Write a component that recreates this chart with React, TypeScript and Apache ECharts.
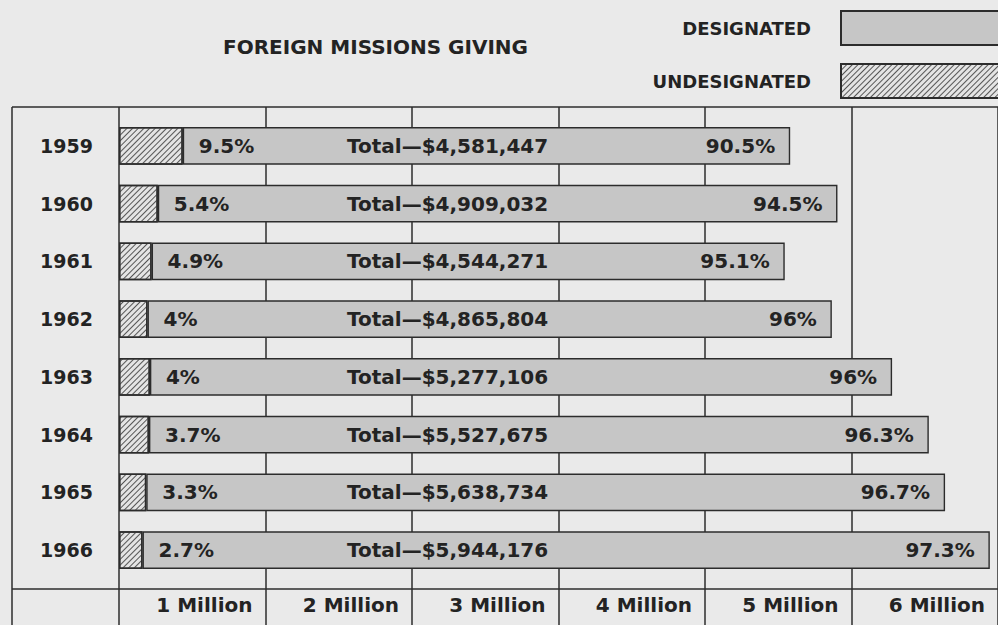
import React, { useEffect, useRef } from 'react';
import * as echarts from 'echarts';

const years = ['1959', '1960', '1961', '1962', '1963', '1964', '1965', '1966'];
const totals = [4581447, 4909032, 4544271, 4865804, 5277106, 5527675, 5638734, 5944176];
const undesignatedPct = [9.5, 5.4, 4.9, 4, 4, 3.7, 3.3, 2.7];
const designatedPct = [90.5, 94.5, 95.1, 96, 96, 96.3, 96.7, 97.3];
const tickLabels = ['1 Million', '2 Million', '3 Million', '4 Million', '5 Million', '6 Million'];

const FONT = 'DejaVu Sans';
const INK = '#232323';
const LINE = '#2c2c2c';
const BG = '#eaeaea';
const BAR = '#c6c6c6';

export default function App() {
  const ref = useRef<HTMLDivElement>(null);
  useEffect(() => {
    document.body.style.margin = '0';
    document.body.style.background = BG;
    const chart = echarts.init(ref.current!, null, { renderer: 'svg' });
    const undesVals = totals.map((t, i) => (t * undesignatedPct[i]) / 100 / 1e6);
    const desVals = totals.map((t, i) => (t * designatedPct[i]) / 100 / 1e6);
    const txt = { fontFamily: FONT, fontWeight: 'bold' as const, color: INK };
    chart.setOption({
      animation: false,
      backgroundColor: BG,
      title: {
        text: 'FOREIGN MISSIONS GIVING',
        left: 218,
        top: 32,
        textStyle: { ...txt, fontSize: 20 },
      },
      legend: {
        data: ['DESIGNATED', 'UNDESIGNATED'],
        orient: 'vertical',
        right: -25,
        top: 5,
        align: 'right',
        icon: 'rect',
        itemWidth: 176,
        itemHeight: 34,
        itemGap: 17,
        selectedMode: false,
        textStyle: { ...txt, fontSize: 18, padding: [0, 25, 0, 0] },
      },
      grid: [
        { left: 119, right: -7, top: 117, bottom: 46 },
        { left: 119, right: -7, top: 107, bottom: -20 },
      ],
      xAxis: [
        {
          type: 'value',
          gridIndex: 0,
          min: 0,
          max: 6,
          interval: 1,
          splitLine: { show: false },
          axisLine: { show: false },
          axisTick: { show: false },
          axisLabel: {
            ...txt,
            fontSize: 20,
            align: 'right',
            margin: 16,
            padding: [0, 13, 0, 0],
            formatter: (v: number) => (v === 0 ? '' : tickLabels[Math.round(v) - 1]),
          },
        },
        {
          type: 'value',
          gridIndex: 1,
          min: 0,
          max: 6,
          interval: 1,
          splitLine: { show: true, lineStyle: { color: LINE, width: 1.5 } },
          axisLine: { show: false },
          axisTick: { show: false },
          axisLabel: { show: false },
        },
      ],
      yAxis: [
        {
          type: 'category',
          gridIndex: 0,
          data: years,
          inverse: true,
          axisLine: { show: false },
          axisTick: { show: false },
          axisLabel: { ...txt, fontSize: 19, margin: 26 },
        },
        { type: 'value', gridIndex: 1, show: false, min: 0, max: 1 },
      ],
      graphic: [
        { type: 'line', shape: { x1: 12, y1: 107, x2: 998, y2: 107 }, style: { stroke: LINE, lineWidth: 1.5 }, z: 1 },
        { type: 'line', shape: { x1: 12, y1: 589, x2: 998, y2: 589 }, style: { stroke: LINE, lineWidth: 1.5 }, z: 1 },
        { type: 'line', shape: { x1: 12, y1: 107, x2: 12, y2: 625 }, style: { stroke: LINE, lineWidth: 1.5 }, z: 1 },
      ],
      series: [
        {
          name: 'UNDESIGNATED',
          type: 'bar',
          stack: 'giving',
          xAxisIndex: 0,
          yAxisIndex: 0,
          barWidth: '65%',
          z: 3,
          data: undesVals,
          itemStyle: {
            color: '#e4e4e4',
            borderColor: LINE,
            borderWidth: 1.4,
            decal: {
              symbol: 'rect',
              symbolSize: 1,
              color: '#555555',
              dashArrayX: [1, 0],
              dashArrayY: [1, 3],
              rotation: -Math.PI / 4,
            },
          },
          label: {
            show: true,
            position: 'right',
            distance: 16,
            ...txt,
            fontSize: 20,
            formatter: (p: any) => undesignatedPct[p.dataIndex] + '%',
          },
        },
        {
          name: 'DESIGNATED',
          type: 'bar',
          stack: 'giving',
          xAxisIndex: 0,
          yAxisIndex: 0,
          barWidth: '65%',
          data: desVals,
          itemStyle: { color: BAR, borderColor: LINE, borderWidth: 1.4 },
          label: {
            show: true,
            position: 'insideRight',
            distance: 15,
            ...txt,
            fontSize: 20,
            formatter: (p: any) => designatedPct[p.dataIndex] + '%',
          },
        },
        {
          name: 'totals',
          type: 'custom',
          xAxisIndex: 0,
          yAxisIndex: 0,
          z: 4,
          data: totals.map((t, i) => [0, i, t]),
          renderItem: (params: any, api: any) => {
            const pt = api.coord([0, api.value(1)]);
            const t = totals[params.dataIndex];
            return {
              type: 'text',
              x: pt[0] + 228,
              y: pt[1],
              style: {
                text: 'Total\u2014$' + t.toLocaleString('en-US'),
                fontFamily: FONT,
                fontWeight: 'bold',
                fontSize: 20,
                fill: INK,
                textAlign: 'left',
                textVerticalAlign: 'middle',
              },
            };
          },
        },
      ],
    });
    return () => chart.dispose();
  }, []);
  return <div ref={ref} style={{ width: 998, height: 625 }} />;
}
